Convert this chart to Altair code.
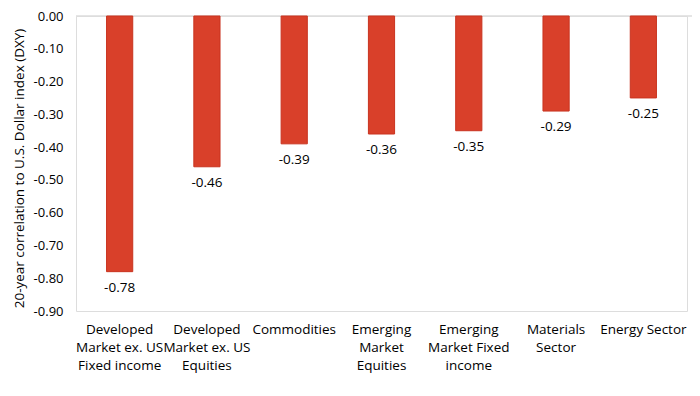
import altair as alt
import pandas as pd

categories = [
    "Developed|Market ex. US|Fixed income",
    "Developed|Market ex. US|Equities",
    "Commodities",
    "Emerging|Market|Equities",
    "Emerging|Market Fixed|income",
    "Materials|Sector",
    "Energy Sector",
]
values = [-0.78, -0.46, -0.39, -0.36, -0.35, -0.29, -0.25]
y_ticks = [0, -0.1, -0.2, -0.3, -0.4, -0.5, -0.6, -0.7, -0.8, -0.9]

df = pd.DataFrame({"cat": categories, "val": values})
df["lbl"] = [f"{v:.2f}" for v in values]

FONT = "Open Sans"
order = categories

x_axis = alt.Axis(
    orient="bottom",
    labelAngle=0,
    domain=False,
    ticks=False,
    labelPadding=11,
    labelFontSize=13.5,
    labelFont=FONT,
    labelColor="#000000",
    labelLineHeight=18,
    labelExpr="split(datum.label, '|')",
    labelBaseline="top",
    labelOverlap=False,
    labelBound=False,
)
x = alt.X(
    "cat:N",
    sort=order,
    title=None,
    scale=alt.Scale(paddingInner=0, paddingOuter=0),
    axis=x_axis,
)

y_scale = alt.Scale(domain=[-0.9, 0], nice=False)
y_axis = alt.Axis(
    values=y_ticks,
    labelExpr="replace(format(datum.value, '.2f'), '\u2212', '-')",
    domain=False,
    ticks=False,
    grid=False,
    labelOverlap=False,
    labelFlush=False,
    labelBound=False,
    labelPadding=13,
    labelFontSize=13,
    labelFont=FONT,
    labelColor="#000000",
    titleFont=FONT,
    titleFontSize=13.5,
    titleFontWeight="normal",
    titleColor="#000000",
    titlePadding=7,
    titleY=152,
)
y_title = "20-year correlation to U.S. Dollar index (DXY)"

bars = alt.Chart(df).mark_bar(
    color="#D9402A", stroke="#C9331F", strokeWidth=1, width={"band": 0.3}
).encode(
    x=x,
    y=alt.Y("val:Q", scale=y_scale, title=y_title, axis=y_axis),
    y2=alt.datum(0),
)

labels = alt.Chart(df).mark_text(
    baseline="top", dy=9, fontSize=13.5, font=FONT, color="#000000"
).encode(
    x=x,
    y=alt.Y("val:Q", scale=y_scale, title=y_title, axis=y_axis),
    text="lbl:N",
)

zero = alt.Chart(pd.DataFrame({"z": [0]})).mark_rule(
    color="#DDDDDD", strokeWidth=1.5
).encode(
    y=alt.Y("z:Q", scale=y_scale, title=y_title, axis=y_axis),
    x=alt.value(0),
    x2=alt.value(624),
)

chart = (
    alt.layer(zero, bars, labels)
    .properties(
        width=611,
        height=295,
        autosize=alt.AutoSizeParams(type="none"),
        padding={"left": 68, "top": 8, "right": 5, "bottom": 77},
    )
    .configure_view(stroke=None)
    .configure(background="#FFFFFF")
)

chart.save("out.html", embed_options={"renderer": "svg", "actions": False})
